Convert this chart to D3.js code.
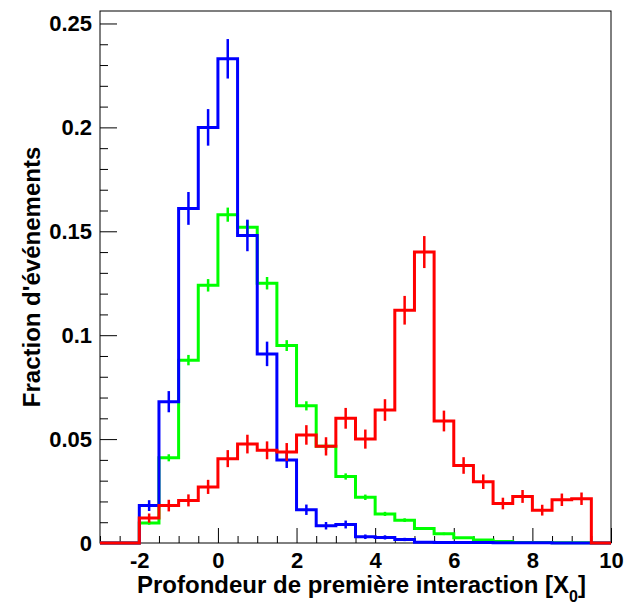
<!DOCTYPE html>
<html>
<head>
<meta charset="utf-8">
<script src="https://cdn.jsdelivr.net/npm/d3@7"></script>
<style>
  body { margin: 0; background: #fff; }
  svg { display: block; font-family: "Liberation Sans", Arial, sans-serif; font-weight: bold; }
</style>
</head>
<body>
<svg width="624" height="606"></svg>
<script>
// histogram bins: width 0.5, from -2 to 9.5
const binLow = -2;
const binWidth = 0.5;

const blueValues = [0.018, 0.068, 0.161, 0.200, 0.233, 0.148, 0.091, 0.040, 0.016, 0.0083, 0.0089, 0.003,
  0.0027, 0.0017, 0.0004, 0.0003, 0.0002, 0.0002, 0.0001, 0.0001, 0.0001, 0.0, 0.0];
const blueErrors = [0.0026, 0.0051, 0.0079, 0.0088, 0.0095, 0.0076, 0.0059, 0.0039, 0.0025, 0.0018, 0.0019, 0.0011,
  0.001, 0.0008, 0.0004, 0.0003, 0.0003, 0.0003, 0.0002, 0.0002, 0.0002, 0, 0];

const greenValues = [0.0096, 0.041, 0.088, 0.124, 0.158, 0.152, 0.125, 0.095, 0.066, 0.0465, 0.032, 0.022,
  0.014, 0.011, 0.007, 0.0044, 0.0025, 0.0014, 0.0007, 0.0003, 0.0002, 0.0001, 0.0001];
const greenErrors = [0.0008, 0.0017, 0.0025, 0.003, 0.0034, 0.0033, 0.003, 0.0026, 0.0022, 0.0018, 0.0015, 0.0013,
  0.001, 0.0009, 0.0007, 0.0006, 0.0004, 0.0003, 0.0002, 0.0001, 0.0001, 0.0001, 0.0001];

const redValues = [0.012, 0.018, 0.0205, 0.027, 0.0406, 0.0476, 0.0446, 0.0438, 0.052, 0.0465, 0.060, 0.050,
  0.064, 0.112, 0.140, 0.0587, 0.0373, 0.0295, 0.019, 0.0224, 0.0158, 0.0208, 0.0213];
const redErrors = [0.0022, 0.0028, 0.0029, 0.0034, 0.0041, 0.0045, 0.0043, 0.0043, 0.0047, 0.0044, 0.005, 0.0046,
  0.0052, 0.0069, 0.0077, 0.005, 0.004, 0.0035, 0.0028, 0.0031, 0.0026, 0.003, 0.003];

const xMajor = [-2, 0, 2, 4, 6, 8, 10];
const yMajor = [0, 0.05, 0.1, 0.15, 0.2, 0.25];

const svg = d3.select('svg');
const margin = {top: 11, bottom: 63, right: 13, left: 100};
const width = 624, height = 606;

const x = d3.scaleLinear().domain([-3, 10]).range([margin.left, width - margin.right]);
const y = d3.scaleLinear().domain([0, 0.256]).range([height - margin.bottom, margin.top]);

// frame
svg.append('rect')
  .attr('x', x(-3)).attr('y', y(0.256))
  .attr('width', x(10) - x(-3)).attr('height', y(0) - y(0.256))
  .attr('fill', 'none').attr('stroke', 'black').attr('stroke-width', 1);

// x axis: minor + major ticks pointing inward
const xMinor = d3.range(-3, 10.01, 0.5).filter(v => !xMajor.includes(v));
svg.append('g')
  .attr('transform', 'translate(0,' + y(0) + ')')
  .call(d3.axisBottom(x).tickValues(xMinor).tickSize(-7).tickSizeOuter(0).tickFormat(''))
  .call(g => g.select('.domain').remove());
const xAxis = svg.append('g')
  .attr('transform', 'translate(0,' + y(0) + ')')
  .call(d3.axisBottom(x).tickValues(xMajor).tickSize(-15).tickSizeOuter(0).tickPadding(9).tickFormat(d => String(d)));
xAxis.select('.domain').remove();
xAxis.selectAll('text').attr('font-size', 22).attr('font-family', null).attr('fill', 'black');

// y axis
const yMinor = d3.range(0, 0.256, 0.01).filter(v => !yMajor.some(m => Math.abs(m - v) < 1e-6));
svg.append('g')
  .attr('transform', 'translate(' + x(-3) + ',0)')
  .call(d3.axisLeft(y).tickValues(yMinor).tickSize(-8).tickSizeOuter(0).tickFormat(''))
  .call(g => g.select('.domain').remove());
const yAxis = svg.append('g')
  .attr('transform', 'translate(' + x(-3) + ',0)')
  .call(d3.axisLeft(y).tickValues(yMajor).tickSize(-17).tickSizeOuter(0).tickPadding(8).tickFormat(d => String(d)));
yAxis.select('.domain').remove();
yAxis.selectAll('text').attr('font-size', 22).attr('font-family', null).attr('fill', 'black');

svg.selectAll('.tick line').attr('stroke', 'black');

// axis titles
const xTitle = svg.append('text')
  .attr('x', 586).attr('y', 593)
  .attr('text-anchor', 'end')
  .attr('font-size', 24);
xTitle.append('tspan').text('Profondeur de première interaction [X');
xTitle.append('tspan').attr('font-size', 16).attr('dy', 9).text('0');
xTitle.append('tspan').attr('dy', -9).text(']');

svg.append('text')
  .attr('transform', 'translate(40,' + (y(0) + y(0.256)) / 2 + ') rotate(-90)')
  .attr('text-anchor', 'middle')
  .attr('font-size', 24)
  .text("Fraction d'événements");

// histograms
function drawHist(values, errors, color) {
  const pts = [[-3, 0], [binLow, 0]];
  values.forEach((v, i) => {
    const lo = binLow + i * binWidth;
    pts.push([lo, v], [lo + binWidth, v]);
  });
  const hi = binLow + values.length * binWidth;
  pts.push([hi, 0], [10, 0]);

  svg.append('path')
    .attr('d', d3.line().x(d => x(d[0])).y(d => y(d[1]))(pts))
    .attr('fill', 'none')
    .attr('stroke', color)
    .attr('stroke-width', 3)
    .attr('stroke-linejoin', 'miter');

  svg.append('g').selectAll('line')
    .data(values.map((v, i) => ({v: v, e: errors[i], c: binLow + (i + 0.5) * binWidth})))
    .enter()
    .append('line')
    .attr('x1', d => x(d.c)).attr('x2', d => x(d.c))
    .attr('y1', d => y(d.v - d.e)).attr('y2', d => y(d.v + d.e))
    .attr('stroke', color)
    .attr('stroke-width', 2.5);
}

drawHist(greenValues, greenErrors, '#00ff00');
drawHist(blueValues, blueErrors, '#0000ff');
drawHist(redValues, redErrors, '#ff0000');
</script>
</body>
</html>
